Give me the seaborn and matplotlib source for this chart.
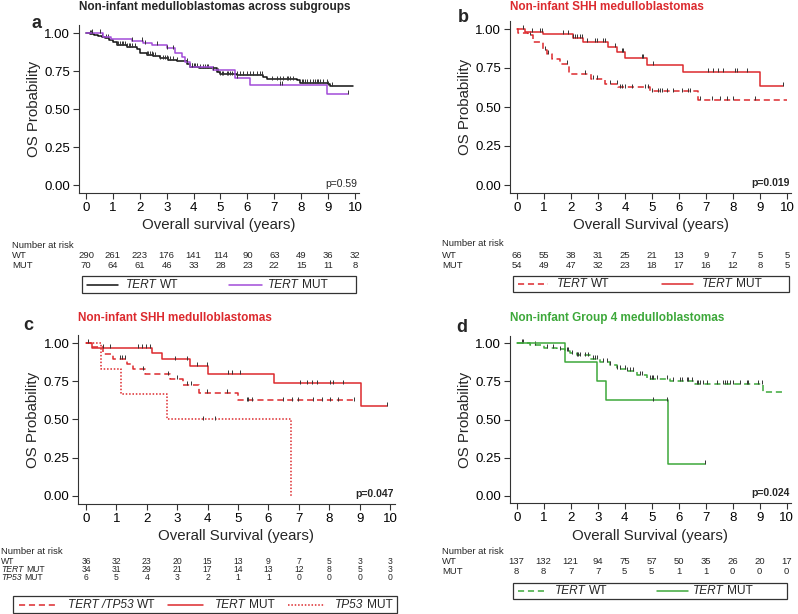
import numpy as np
import matplotlib
matplotlib.use("Agg")
import matplotlib.pyplot as plt
import seaborn as sns
from matplotlib.lines import Line2D
from matplotlib.patches import Rectangle
from matplotlib import transforms

# ---- values ----
years = list(range(11))

# panel a: all non-infant medulloblastomas
a_wt_t = [0, 0.15, 0.30, 0.45, 0.58, 0.70, 0.85, 1.02, 1.14, 1.51, 1.88, 2.01, 2.25, 2.50, 2.75, 3.05,
          3.37, 3.74, 3.87, 4.20, 4.48, 4.86, 4.98, 5.60, 6.59, 6.72, 7.83, 7.96, 9.01, 9.07, 9.94]
a_wt_s = [1.0, 0.995, 0.99, 0.982, 0.976, 0.968, 0.955, 0.943, 0.921, 0.910, 0.895, 0.866, 0.858, 0.851,
          0.833, 0.825, 0.816, 0.794, 0.778, 0.772, 0.768, 0.746, 0.728, 0.724, 0.713, 0.695, 0.691,
          0.669, 0.662, 0.651, 0.651]
a_wt_cens = [0.15, 0.2, 0.58, 0.75, 0.83, 1.14, 1.2, 1.26, 1.33, 1.39, 1.45, 1.52, 1.58, 1.64, 1.7, 1.82,
             2.26, 2.32, 2.38, 2.44, 2.5, 2.56, 2.75, 2.87, 2.93, 3.0, 3.06, 3.12, 3.25, 3.37, 3.87, 3.93,
             4.0, 4.05, 4.11, 4.23, 4.35, 4.42, 4.48, 4.55, 4.92, 4.98, 5.04, 5.1, 5.23, 5.29, 5.35, 5.41,
             5.6, 5.72, 5.85, 5.97, 6.1, 6.22, 6.35, 6.47, 6.53, 6.9, 7.09, 7.21, 7.34, 7.46, 7.52, 7.58,
             7.71, 8.02, 8.08, 8.14, 8.2, 8.33, 8.45, 8.51, 8.57, 8.64, 8.7, 8.82, 8.95, 9.01, 9.13]
a_mut_t = [0, 0.64, 0.92, 1.70, 2.13, 2.44, 3.00, 3.31, 3.56, 3.68, 3.87, 4.73, 5.54, 6.10, 8.95, 9.75]
a_mut_s = [1.0, 0.976, 0.96, 0.947, 0.932, 0.921, 0.899, 0.866, 0.844, 0.811, 0.778, 0.757, 0.702,
           0.658, 0.599, 0.599]
a_mut_cens = [0.21, 0.52, 1.70, 2.07, 2.19, 2.63, 3.0, 3.25, 3.74, 3.93, 4.73, 5.60, 7.21, 7.27, 9.75]
a_risk_wt = [290, 261, 223, 176, 141, 114, 90, 63, 49, 36, 32]
a_risk_mut = [70, 64, 61, 46, 33, 28, 23, 22, 15, 11, 8]

# panel b: SHH, TERT WT vs MUT
b_mut_t = [0, 0.30, 0.98, 2.09, 2.46, 3.38, 3.69, 4.0, 4.80, 6.16, 9.0, 9.86]
b_mut_s = [1.0, 0.983, 0.966, 0.940, 0.917, 0.883, 0.855, 0.816, 0.769, 0.726, 0.637, 0.637]
b_mut_cens = [0.23, 0.54, 0.85, 0.91, 1.72, 1.90, 2.09, 2.15, 2.21, 2.33, 2.40, 2.58, 2.89, 2.95, 3.2,
              3.26, 3.63, 3.88, 3.94, 4.62, 4.68, 5.05, 7.09, 7.27, 7.46, 7.64, 8.07, 8.14, 8.51, 9.86]
b_wt_t = [0, 0.05, 0.42, 0.60, 0.975, 1.10, 1.28, 1.59, 1.94, 2.75, 3.25, 3.75, 4.93, 6.72, 9.99]
b_wt_s = [1.0, 0.976, 0.963, 0.917, 0.863, 0.842, 0.810, 0.775, 0.712, 0.680, 0.650, 0.625, 0.600,
          0.543, 0.543]
b_wt_cens = [0.48, 1.04, 1.16, 1.84, 2.52, 2.83, 2.95, 3.44, 3.69, 3.81, 3.88, 4.0, 4.25, 4.74, 4.86,
             4.99, 5.23, 5.30, 5.36, 5.54, 5.79, 6.1, 6.35, 6.41, 6.78, 7.21, 7.52, 7.77, 8.01, 8.81]
b_risk_wt = [66, 55, 38, 31, 25, 21, 13, 9, 7, 5, 5]
b_risk_mut = [54, 49, 47, 32, 23, 18, 17, 16, 12, 8, 5]

# panel c: SHH, TERT/TP53
c_wt_t = [0, 0.15, 0.55, 0.90, 1.34, 1.56, 1.94, 2.76, 3.20, 3.72, 5.01, 8.82]
c_wt_s = [1.0, 0.976, 0.926, 0.898, 0.860, 0.827, 0.795, 0.763, 0.724, 0.675, 0.625, 0.625]
c_wt_cens = [1.12, 1.17, 1.28, 1.89, 2.71, 2.98, 3.31, 3.47, 3.97, 4.63, 5.29, 5.34, 5.45, 6.49, 6.77,
             6.99, 7.48, 7.75, 8.03, 8.30, 8.82]
c_mut_t = [0, 0.19, 2.16, 2.49, 3.42, 4.0, 6.18, 9.04, 9.91]
c_mut_s = [1.0, 0.969, 0.937, 0.893, 0.850, 0.799, 0.736, 0.588, 0.588]
c_mut_cens = [0.08, 0.57, 0.79, 1.72, 1.83, 1.99, 2.1, 2.93, 3.31, 3.64, 3.97, 4.68, 4.79, 5.07, 7.04,
              7.26, 7.42, 7.59, 8.03, 8.14, 8.46, 9.91]
c_tp53_t = [0, 0.48, 1.14, 2.65, 6.74]
c_tp53_s = [1.0, 0.833, 0.667, 0.5, 0.0]
c_tp53_cens = [3.86, 4.24]
c_risk_wt = [36, 32, 23, 20, 15, 13, 9, 7, 5, 3, 3]
c_risk_tert = [34, 31, 29, 21, 17, 14, 13, 12, 8, 5, 3]
c_risk_tp53 = [6, 5, 4, 3, 2, 1, 1, 0, 0, 0, 0]

# panel d: Group 4
d_wt_t = [0, 0.49, 1.0, 1.48, 1.79, 1.97, 2.22, 2.72, 3.09, 3.46, 3.70, 4.07, 4.44, 4.81, 5.68, 6.60,
          9.13, 9.94]
d_wt_s = [1.0, 0.987, 0.971, 0.96, 0.95, 0.934, 0.921, 0.899, 0.878, 0.856, 0.834, 0.819, 0.790, 0.764,
          0.753, 0.731, 0.680, 0.680]
d_wt_cens = [0.18, 0.25, 0.68, 1.11, 1.36, 1.6, 1.85, 1.91, 2.04, 2.22, 2.28, 2.34, 2.53, 2.65, 2.84,
             2.9, 2.96, 3.21, 3.33, 3.46, 3.7, 3.83, 4.01, 4.07, 4.2, 4.32, 4.57, 4.63, 4.94, 5.0, 5.06,
             5.18, 5.55, 5.8, 6.05, 6.11, 6.29, 6.36, 6.48, 6.67, 6.73, 6.79, 6.91, 7.04, 7.41, 7.65,
             7.72, 7.78, 7.9, 8.02, 8.27, 8.52, 8.58, 8.95, 9.07]
d_mut_t = [0, 1.79, 2.96, 3.31, 5.62, 6.97]
d_mut_s = [1.0, 0.875, 0.75, 0.625, 0.208, 0.208]
d_mut_cens = [5.06, 5.55, 6.97]
d_risk_wt = [137, 132, 121, 94, 75, 57, 50, 35, 26, 20, 17]
d_risk_mut = [8, 8, 7, 7, 5, 5, 1, 1, 0, 0, 0]

BLACK = "#111111"
PURPLE = "#A24BD8"
RED = "#DC2A2E"
GREEN = "#3DA83A"

sns.set_style("ticks")
plt.rcParams['font.family'] = ['Liberation Sans', 'DejaVu Sans']

W, H = 798, 614
fig = plt.figure(figsize=(W / 100, H / 100), dpi=100)


def fy(ypx):
    return 1 - ypx / H


def make_axes(x0, xs, y1, y0, xlabel):
    # x0: pixel of year 0, xs: pixels per year, y1/y0: pixel rows of S=1 and S=0
    ys = y0 - y1
    left, right = x0 - 0.25 * xs, x0 + 10.15 * xs
    top, bottom = y1 - 0.05 * ys, y0 + 0.05 * ys
    ax = fig.add_axes([left / W, fy(bottom), (right - left) / W, (bottom - top) / H])
    ax.set_xlim(-0.25, 10.15)
    ax.set_ylim(-0.05, 1.05)
    sns.despine(ax=ax)
    for sp in ax.spines.values():
        sp.set_linewidth(0.8)
        sp.set_color("#333333")
    ax.set_xticks(years)
    ax.set_yticks([0, 0.25, 0.5, 0.75, 1.0])
    ax.set_yticklabels(["0.00", "0.25", "0.50", "0.75", "1.00"])
    ax.tick_params(direction="out", length=4, width=0.8, labelsize=9.5, pad=2.5, colors="#333333",
                   labelcolor="black")
    ax.set_xlabel(xlabel, fontsize=10.8, labelpad=3)
    ax.set_ylabel("OS Probability", fontsize=10.8, labelpad=2.5)
    return ax


def km(ax, t, s, color, ls, cens):
    sns.lineplot(x=t, y=s, ax=ax, color=color, linestyle=ls, drawstyle="steps-post",
                 linewidth=1.1, estimator=None, sort=False, legend=False)
    t = np.asarray(t)
    s = np.asarray(s)
    cy = s[np.searchsorted(t, cens, side="right") - 1]
    ax.plot(cens, cy + 0.012, linestyle="none", marker="|", ms=3.5, mew=0.7, color="#333333")


def rich(ax, x, y, parts, fontsize):
    # parts: list of (text, fontstyle); pieces are chained left to right
    prev = fig.text(x, y, parts[0][0], fontsize=fontsize, style=parts[0][1], va="center")
    for s, st in parts[1:]:
        prev = ax.annotate(s, xy=(1, 0), xycoords=prev, xytext=(fontsize * 0.28, 0),
                           textcoords="offset points", ha="left", va="bottom",
                           fontsize=fontsize, style=st, annotation_clip=False)


def risk_table(ax, label_x, header_y, rows, fs=6.8):
    tr = transforms.blended_transform_factory(ax.transData, fig.transFigure)
    fig.text(label_x / W, fy(header_y), "Number at risk", fontsize=6.8, va="center")
    for name, vals, y in rows:
        rich(ax, label_x / W, fy(y), name, fs)
        for yr, v in zip(years, vals):
            ax.text(yr, fy(y), str(v), transform=tr, ha="center", va="center", fontsize=fs)


def legend_box(ax, x0, y0, x1, y1, items):
    fig.add_artist(Rectangle((x0 / W, fy(y1)), (x1 - x0) / W, (y1 - y0) / H,
                             transform=fig.transFigure, fill=False, lw=0.9, ec="#333333"))
    yc = fy((y0 + y1) / 2)
    for lx0, lx1, tx, color, ls, label in items:
        fig.add_artist(Line2D([lx0 / W, lx1 / W], [yc, yc], transform=fig.transFigure,
                              color=color, linestyle=ls, lw=1.1))
        rich(ax, tx / W, yc, label, 8.6)


DASH = (0, (4, 2.5))
DOT = (0, (1, 1.2))
IT, NO = "italic", "normal"

# ---- panel a ----
ax = make_axes(86, 26.9, 33, 185, "Overall survival (years)")
km(ax, a_wt_t, a_wt_s, BLACK, "-", a_wt_cens)
km(ax, a_mut_t, a_mut_s, PURPLE, "-", a_mut_cens)
ax.text(0.995, 0.05, "p=0.59", transform=ax.transAxes, ha="right", va="center", fontsize=7.5)
fig.text(215 / W, fy(7), "Non-infant medulloblastomas across subgroups", ha="center", va="center",
         fontsize=8.5, fontweight="bold")
fig.text(37 / W, fy(24), "a", ha="center", va="center", fontsize=13, fontweight="bold")
risk_table(ax, 12, 245, [([("WT", NO)], a_risk_wt, 256), ([("MUT", NO)], a_risk_mut, 266)])
legend_box(ax, 82, 276, 356, 293, [(87, 118, 126, BLACK, "-", [("TERT", IT), ("WT", NO)]),
                                   (229, 262, 268, PURPLE, "-", [("TERT", IT), ("MUT", NO)])])

# ---- panel b ----
ax = make_axes(517, 27.0, 29, 185, "Overall Survival (years)")
km(ax, b_wt_t, b_wt_s, RED, DASH, b_wt_cens)
km(ax, b_mut_t, b_mut_s, RED, "-", b_mut_cens)
ax.text(0.995, 0.06, "p=0.019", transform=ax.transAxes, ha="right", va="center", fontsize=7.5,
        fontweight="bold")
fig.text(607 / W, fy(7), "Non-infant SHH medulloblastomas", ha="center", va="center",
         fontsize=8.5, fontweight="bold", color=RED)
fig.text(463 / W, fy(17), "b", ha="center", va="center", fontsize=13, fontweight="bold")
risk_table(ax, 442, 244, [([("WT", NO)], b_risk_wt, 255), ([("MUT", NO)], b_risk_mut, 266)])
legend_box(ax, 513, 276, 789, 292, [(518, 548, 557, RED, DASH, [("TERT", IT), ("WT", NO)]),
                                    (662, 693, 702, RED, "-", [("TERT", IT), ("MUT", NO)])])

# ---- panel c ----
ax = make_axes(86, 30.4, 343, 496, "Overall Survival (years)")
km(ax, c_wt_t, c_wt_s, RED, DASH, c_wt_cens)
km(ax, c_mut_t, c_mut_s, RED, "-", c_mut_cens)
km(ax, c_tp53_t, c_tp53_s, RED, DOT, c_tp53_cens)
ax.text(0.998, 0.06, "p=0.047", transform=ax.transAxes, ha="right", va="center", fontsize=7.5,
        fontweight="bold")
fig.text(175 / W, fy(318), "Non-infant SHH medulloblastomas", ha="center", va="center",
         fontsize=8.5, fontweight="bold", color=RED)
fig.text(28 / W, fy(326), "c", ha="center", va="center", fontsize=13, fontweight="bold")
risk_table(ax, 1, 551, [([("WT", NO)], c_risk_wt, 561.5),
                        ([("TERT", IT), ("MUT", NO)], c_risk_tert, 569.3),
                        ([("TP53", IT), ("MUT", NO)], c_risk_tp53, 577)], fs=6.2)
legend_box(ax, 13, 596, 397, 613, [(19, 55, 68, RED, DASH, [("TERT /TP53", IT), ("WT", NO)]),
                                   (168, 203, 215, RED, "-", [("TERT", IT), ("MUT", NO)]),
                                   (288, 325, 335, RED, DOT, [("TP53", IT), ("MUT", NO)])])

# ---- panel d ----
ax = make_axes(516.7, 27.0, 343.3, 495.7, "Overall Survival (years)")
km(ax, d_wt_t, d_wt_s, GREEN, DASH, d_wt_cens)
km(ax, d_mut_t, d_mut_s, GREEN, "-", d_mut_cens)
ax.text(0.995, 0.06, "p=0.024", transform=ax.transAxes, ha="right", va="center", fontsize=7.5,
        fontweight="bold")
fig.text(617 / W, fy(318), "Non-infant Group 4 medulloblastomas", ha="center", va="center",
         fontsize=8.5, fontweight="bold", color=GREEN)
fig.text(462 / W, fy(327), "d", ha="center", va="center", fontsize=13, fontweight="bold")
risk_table(ax, 442, 552, [([("WT", NO)], d_risk_wt, 562), ([("MUT", NO)], d_risk_mut, 572)])
legend_box(ax, 513, 583, 787, 599, [(518, 547, 555, GREEN, DASH, [("TERT", IT), ("WT", NO)]),
                                    (657, 688, 693, GREEN, "-", [("TERT", IT), ("MUT", NO)])])

fig.savefig("out.png", dpi=100)
